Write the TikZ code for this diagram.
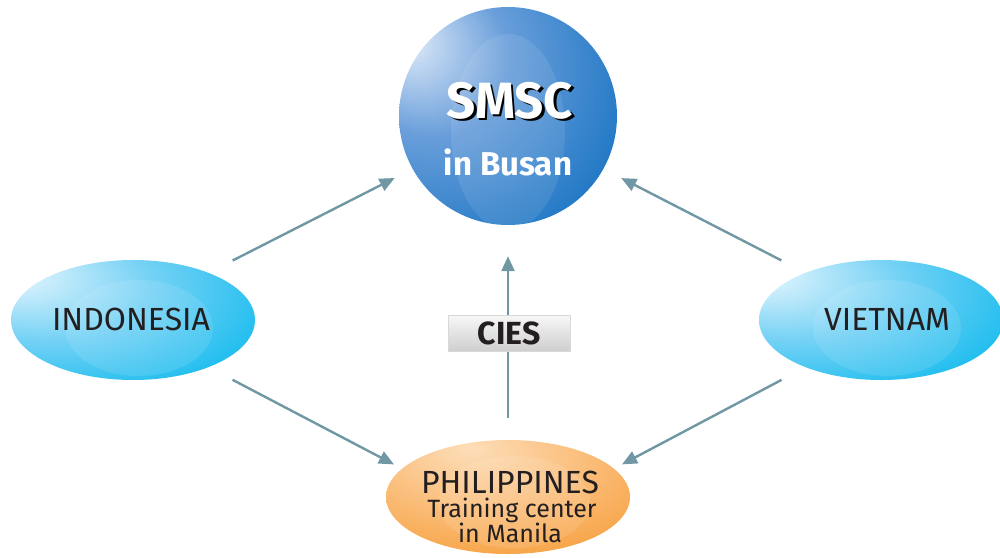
\documentclass[tikz,border=0pt]{standalone}
\usepackage{fontspec}
\setmainfont{Fira Sans}
\usetikzlibrary{shapes.geometric,arrows.meta}

\definecolor{arrowgray}{RGB}{111,151,164}
\definecolor{darktext}{RGB}{35,31,32}
\definecolor{ballhi}{RGB}{228,238,250}
\definecolor{ballmid}{RGB}{105,158,218}
\definecolor{balledge}{RGB}{25,116,195}
\definecolor{balldark}{RGB}{0,100,178}
\definecolor{cyanhi}{RGB}{236,248,255}
\definecolor{cyanmid}{RGB}{118,210,245}
\definecolor{cyanedge}{RGB}{0,182,236}
\definecolor{orangehi}{RGB}{253,222,185}
\definecolor{orangemid}{RGB}{250,186,115}
\definecolor{orangeedge}{RGB}{244,143,28}

\pgfdeclareradialshading{smscball}{\pgfpoint{-24bp}{18bp}}{%
  color(0bp)=(ballhi); color(18bp)=(ballmid); color(42bp)=(balledge); color(72bp)=(balldark)}
\pgfdeclareradialshading{cyanoval}{\pgfpoint{-26bp}{20bp}}{%
  color(0bp)=(cyanhi); color(22bp)=(cyanmid); color(48bp)=(cyanedge); color(76bp)=(cyanedge)}
\pgfdeclareradialshading{orangeoval}{\pgfpoint{-8bp}{22bp}}{%
  color(0bp)=(orangehi); color(24bp)=(orangemid); color(52bp)=(orangeedge); color(76bp)=(orangeedge)}

\begin{document}
\begin{tikzpicture}[x=1pt,y=-1pt,
    arr/.style={draw=arrowgray,line width=2.4pt,-{Triangle[length=15pt,width=13pt]}},
    country/.style={ellipse,minimum width=244pt,minimum height=120pt,inner sep=0pt,shade,shading=cyanoval},
    txt/.style={anchor=base,inner sep=0pt,text=darktext}]

    \useasboundingbox (0,0) rectangle (1000,557);

    % Place the four centres
    \node[circle,minimum size=218pt,inner sep=0pt,shade,shading=smscball] (smsc) at (508,116) {};
    \node[country] (indo) at (133,320) {};
    \node[country] (viet) at (881,320) {};
    \node[ellipse,minimum width=244pt,minimum height=114pt,inner sep=0pt,shade,shading=orangeoval] (phil) at (508,497) {};

    % Soft inner gloss
    \begin{scope}
      \clip (smsc.center) circle (109);
      \fill[white,opacity=.09] (508,132) ellipse (57 and 98);
    \end{scope}
    \fill[white,opacity=.1] (139,328) ellipse (74 and 48);
    \fill[white,opacity=.1] (887,328) ellipse (74 and 48);
    \fill[white,opacity=.1] (514,502) ellipse (76 and 46);

    % Texts
    \node[txt,text=white,font=\bfseries\fontsize{51}{51}\selectfont] (smsctitle) at (510,118)
      {\makebox[0pt][l]{\kern2.5pt\raisebox{-2.5pt}{\color{black}SMSC}}SMSC};
    \node[txt,text=white,font=\bfseries\fontsize{33}{33}\selectfont] (smsccity) at (508,175) {in Busan};
    \node[txt,font=\fontsize{32}{32}\selectfont] (indotext) at (131,330) {INDONESIA};
    \node[txt,font=\fontsize{32}{32}\selectfont] (viettext) at (887,330) {VIETNAM};
    \node[txt,font=\fontsize{32}{32}\selectfont] (philname) at (510,493) {PHILIPPINES};
    \node[txt,font=\fontsize{25}{25}\selectfont] (philline) at (512,517) {Training center};
    \node[txt,font=\fontsize{25}{25}\selectfont] (philcity) at (510,542) {in Manila};

    % Arrows between the centres
    \foreach \u/\v/\s/\e in {indo.32/smsc.209/27/20, viet.148/smsc.-29/27/20,
                             indo.-32/phil.165/27/9, viet.-148/phil.15/27/9,
                             phil.north/smsc.south/22/31} {
      \draw[arr,shorten <=\s pt,shorten >=\e pt] (\u) -- (\v);
    }

    % Link label on the vertical arrow
    \node[rectangle,minimum width=122pt,minimum height=36pt,inner sep=0pt,
          draw=gray!30,line width=1pt,top color=gray!6,bottom color=gray!38,
          text=darktext,font=\bfseries\fontsize{32}{32}\selectfont] (cies) at (509,333) {CIES};

  \end{tikzpicture}
\end{document}
